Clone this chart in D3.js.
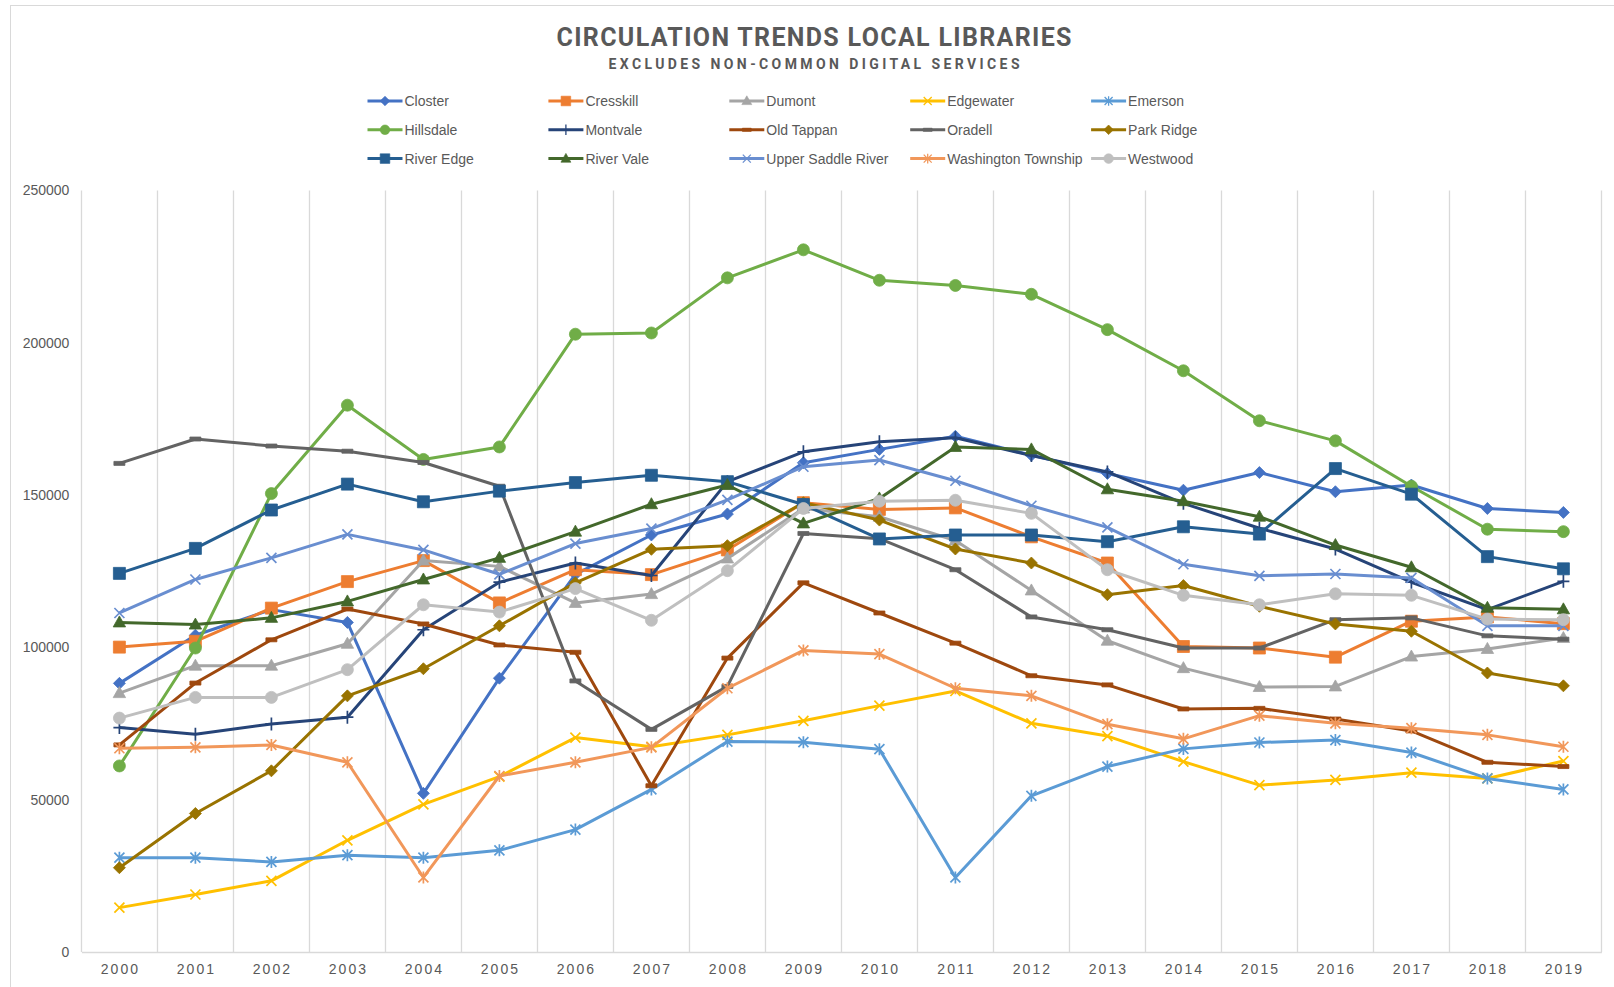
<!DOCTYPE html>
<html>
<head>
<meta charset="utf-8">
<script src="https://cdn.jsdelivr.net/npm/d3@7"></script>
<style>
  html, body { margin: 0; padding: 0; background: #fff; }
  svg { display: block; font-family: "Liberation Sans", Arial, sans-serif; }
</style>
</head>
<body>
<svg width="1614" height="987"></svg>
<script>
const YEARS = ["2000", "2001", "2002", "2003", "2004", "2005", "2006", "2007", "2008", "2009",
  "2010", "2011", "2012", "2013", "2014", "2015", "2016", "2017", "2018", "2019"];
const Y_TICKS = [0, 50000, 100000, 150000, 200000, 250000];

const CLOSTER = [88200, 104000, 112400, 108200, 52100, 89900, 124000, 136900, 143800, 160600,
  165000, 169300, 163100, 157100, 151600, 157400, 151100, 153300, 145600, 144300];
const CRESSKILL = [100100, 102000, 112900, 121600, 128500, 114600, 125500, 123900, 132000, 147500,
  145300, 145800, 136300, 127700, 100300, 99800, 96800, 108600, 110000, 107800];
const DUMONT = [85000, 94000, 94000, 101200, 128500, 126600, 114600, 117500, 129200, 145600,
  142900, 135100, 118700, 102200, 93200, 87000, 87200, 97000, 99500, 103100];
const EDGEWATER = [14600, 18900, 23400, 36700, 48500, 57600, 70400, 67400, 71300, 75900,
  80900, 85700, 75100, 70900, 62500, 54800, 56500, 58900, 57000, 62700];
const EMERSON = [31000, 31000, 29600, 31800, 31000, 33400, 40200, 53400, 69100, 68900,
  66600, 24500, 51300, 60900, 66700, 68800, 69600, 65500, 57000, 53400];
const HILLSDALE = [61100, 99800, 150500, 179500, 161700, 165800, 202800, 203200, 221300, 230500,
  220500, 218800, 215900, 204300, 190800, 174400, 167800, 152900, 138800, 138000];
const MONTVALE = [73700, 71500, 74900, 77100, 105800, 121400, 127700, 123600, 154400, 164200,
  167500, 168800, 163000, 157600, 147300, 139100, 132300, 121400, 112400, 121700];
const OLD_TAPPAN = [68000, 88300, 102500, 112600, 107700, 100800, 98400, 54600, 96500, 121200,
  111300, 101400, 90700, 87700, 79800, 80000, 76500, 72600, 62300, 60900];
const ORADELL = [160400, 168400, 166100, 164400, 160700, 152900, 89000, 73100, 87200, 137400,
  135700, 125500, 110000, 105800, 99800, 99800, 109100, 109700, 103800, 102700];
const PARK_RIDGE = [27700, 45500, 59500, 84100, 93000, 107100, 121200, 132200, 133400, 147500,
  141800, 132300, 127700, 117300, 120300, 113500, 107700, 105300, 91600, 87400];
const RIVER_EDGE = [124300, 132500, 145100, 153600, 147800, 151300, 154100, 156500, 154400, 146900,
  135600, 136900, 136900, 134700, 139600, 137200, 158700, 150300, 129800, 125800];
const RIVER_VALE = [108200, 107500, 109700, 115100, 122300, 129400, 138000, 147000, 153300, 140700,
  148900, 165800, 165000, 151900, 148000, 142900, 133600, 126300, 113000, 112500];
const UPPER_SADDLE_RIVER = [111300, 122300, 129400, 137100, 132000, 124000, 134100, 139000, 148400, 159300,
  161500, 154700, 146500, 139400, 127300, 123500, 124100, 122800, 107100, 107100];
const WASHINGTON_TOWNSHIP = [66900, 67200, 68000, 62300, 24500, 57800, 62300, 67200, 86600, 99000,
  97800, 86600, 84100, 74800, 70000, 77600, 75100, 73500, 71300, 67400];
const WESTWOOD = [76800, 83600, 83600, 92700, 114000, 111600, 119300, 108900, 125200, 145600,
  148000, 148300, 144000, 125500, 117100, 114000, 117600, 117100, 109300, 109100];

const SERIES = [
  { name: "Closter", values: CLOSTER },
  { name: "Cresskill", values: CRESSKILL },
  { name: "Dumont", values: DUMONT },
  { name: "Edgewater", values: EDGEWATER },
  { name: "Emerson", values: EMERSON },
  { name: "Hillsdale", values: HILLSDALE },
  { name: "Montvale", values: MONTVALE },
  { name: "Old Tappan", values: OLD_TAPPAN },
  { name: "Oradell", values: ORADELL },
  { name: "Park Ridge", values: PARK_RIDGE },
  { name: "River Edge", values: RIVER_EDGE },
  { name: "River Vale", values: RIVER_VALE },
  { name: "Upper Saddle River", values: UPPER_SADDLE_RIVER },
  { name: "Washington Township", values: WASHINGTON_TOWNSHIP },
  { name: "Westwood", values: WESTWOOD },
];

// colour + marker per series
const STYLE = {
  "Closter": { color: "#4472C4", marker: "diamond" },
  "Cresskill": { color: "#ED7D31", marker: "square" },
  "Dumont": { color: "#A5A5A5", marker: "triangle" },
  "Edgewater": { color: "#FFC000", marker: "x" },
  "Emerson": { color: "#5B9BD5", marker: "asterisk" },
  "Hillsdale": { color: "#70AD47", marker: "circle" },
  "Montvale": { color: "#264478", marker: "plus" },
  "Old Tappan": { color: "#9E480E", marker: "dash" },
  "Oradell": { color: "#636363", marker: "dash" },
  "Park Ridge": { color: "#997300", marker: "diamond" },
  "River Edge": { color: "#255E91", marker: "square" },
  "River Vale": { color: "#43682B", marker: "triangle" },
  "Upper Saddle River": { color: "#698ED0", marker: "x" },
  "Washington Township": { color: "#F1975A", marker: "asterisk" },
  "Westwood": { color: "#BFBFBF", marker: "circle" },
};

const TEXT_COLOR = "#595959";
const GRID_COLOR = "#D9D9D9";

const PLOT_LEFT = 81.4;
const PLOT_RIGHT = 1601.4;
const PLOT_TOP = 190.4;
const PLOT_BOTTOM = 952.1;

const xScale = d3.scaleBand().domain(YEARS).range([PLOT_LEFT, PLOT_RIGHT]).padding(0);
const yScale = d3.scaleLinear().domain([0, 250000]).range([PLOT_BOTTOM, PLOT_TOP]);
const xCenter = (year) => xScale(year) + xScale.bandwidth() / 2;

const markerPath = (type) => {
  switch (type) {
    case "diamond": return "M0,-6L6,0L0,6L-6,0Z";
    case "square": return "M-6,-6h12v12h-12Z";
    case "triangle": return "M0,-6.5L6.2,4.5L-6.2,4.5Z";
    case "circle": return "M6,0A6,6 0 1,1 -6,0A6,6 0 1,1 6,0Z";
    case "x": return "M-5,-5L5,5M-5,5L5,-5";
    case "asterisk": return "M-5,-5L5,5M-5,5L5,-5M0,-6L0,6";
    case "plus": return "M-6,0L6,0M0,-6.5L0,6.5";
    case "dash": return "M-5.5,-2h11v4h-11Z";
  }
};
const isStroked = (type) => type === "x" || type === "asterisk" || type === "plus";

const svg = d3.select("svg");

// chart frame
svg.append("rect")
  .attr("x", 10.5).attr("y", 5.5)
  .attr("width", 1700).attr("height", 1000)
  .attr("fill", "#fff")
  .attr("stroke", GRID_COLOR);

// title
svg.append("text")
  .attr("x", 814).attr("y", 46)
  .attr("text-anchor", "middle")
  .attr("font-size", 25)
  .attr("font-weight", "bold")
  .attr("font-family", "Liberation Sans Narrow, Roboto, sans-serif")
  .attr("fill", TEXT_COLOR)
  .attr("textLength", 515)
  .attr("lengthAdjust", "spacing")
  .text("CIRCULATION  TRENDS  LOCAL  LIBRARIES");

svg.append("text")
  .attr("x", 814).attr("y", 69)
  .attr("text-anchor", "middle")
  .attr("font-size", 14)
  .attr("font-weight", "bold")
  .attr("font-family", "Liberation Sans Narrow, Roboto, sans-serif")
  .attr("fill", TEXT_COLOR)
  .attr("textLength", 411)
  .attr("lengthAdjust", "spacing")
  .text("EXCLUDES NON-COMMON DIGITAL SERVICES");

// vertical gridlines at band edges
const chart = svg.append("g");
chart.selectAll(".vgrid")
  .data(YEARS.concat(["end"]))
  .enter()
  .append("line")
  .classed("vgrid", true)
  .attr("x1", (d, i) => Math.round(i < YEARS.length ? xScale(d) : PLOT_RIGHT) + 0.5)
  .attr("x2", (d, i) => Math.round(i < YEARS.length ? xScale(d) : PLOT_RIGHT) + 0.5)
  .attr("y1", PLOT_TOP)
  .attr("y2", PLOT_BOTTOM)
  .attr("stroke", GRID_COLOR)
  .attr("stroke-width", 1.3);

// x axis
const bottomAxis = d3.axisBottom(xScale).tickSize(0).tickPadding(12);
const xAxis = chart.append("g")
  .attr("transform", `translate(0, ${PLOT_BOTTOM})`)
  .call(bottomAxis);
xAxis.select(".domain").attr("stroke", GRID_COLOR).attr("stroke-width", 1.5);
xAxis.selectAll("text")
  .attr("font-size", 14)
  .attr("fill", TEXT_COLOR)
  .attr("font-family", "Liberation Sans, Arial, sans-serif")
  .attr("letter-spacing", "2px")
  .attr("dx", "1px");

// y axis labels
const leftAxis = d3.axisLeft(yScale).tickValues(Y_TICKS).tickFormat(d3.format("d")).tickSize(0).tickPadding(12);
const yAxis = chart.append("g")
  .attr("transform", `translate(${PLOT_LEFT}, 0)`)
  .call(leftAxis);
yAxis.select(".domain").remove();
yAxis.selectAll("text")
  .attr("font-size", 14)
  .attr("fill", TEXT_COLOR)
  .attr("font-family", "Liberation Sans, Arial, sans-serif");

// series lines + markers
const line = d3.line()
  .x((d, i) => xCenter(YEARS[i]))
  .y((d) => yScale(d));

const seriesGroups = chart.selectAll(".series")
  .data(SERIES)
  .enter()
  .append("g")
  .classed("series", true);

seriesGroups.append("path")
  .attr("d", (s) => line(s.values))
  .attr("fill", "none")
  .attr("stroke", (s) => STYLE[s.name].color)
  .attr("stroke-width", 3)
  .attr("stroke-linejoin", "round");

seriesGroups.selectAll(".marker")
  .data((s) => s.values.map((v, i) => ({ name: s.name, year: YEARS[i], value: v })))
  .enter()
  .append("path")
  .classed("marker", true)
  .attr("transform", (d) => `translate(${xCenter(d.year)}, ${yScale(d.value)})`)
  .attr("d", (d) => markerPath(STYLE[d.name].marker))
  .attr("fill", (d) => isStroked(STYLE[d.name].marker) ? "none" : STYLE[d.name].color)
  .attr("stroke", (d) => STYLE[d.name].color)
  .attr("stroke-width", (d) => isStroked(STYLE[d.name].marker) ? 1.7 : 0.8);

// legend: 3 rows x 5 columns
const legend = svg.append("g");
const legendItems = legend.selectAll(".legend-item")
  .data(SERIES)
  .enter()
  .append("g")
  .classed("legend-item", true)
  .attr("transform", (d, i) => `translate(${404.5 + (i % 5) * 180.9}, ${101 + Math.floor(i / 5) * 28.8})`);

legendItems.append("line")
  .attr("x1", -37).attr("x2", -2)
  .attr("y1", 0).attr("y2", 0)
  .attr("stroke", (d) => STYLE[d.name].color)
  .attr("stroke-width", 3);

legendItems.append("path")
  .attr("transform", "translate(-19.5, 0) scale(0.8)")
  .attr("d", (d) => markerPath(STYLE[d.name].marker))
  .attr("fill", (d) => isStroked(STYLE[d.name].marker) ? "none" : STYLE[d.name].color)
  .attr("stroke", (d) => STYLE[d.name].color)
  .attr("stroke-width", (d) => isStroked(STYLE[d.name].marker) ? 1.6 : 0.8);

legendItems.append("text")
  .attr("x", 0)
  .attr("y", 0)
  .attr("dy", "0.35em")
  .attr("font-size", 14)
  .attr("fill", TEXT_COLOR)
  .text((d) => d.name);
</script>
</body>
</html>
